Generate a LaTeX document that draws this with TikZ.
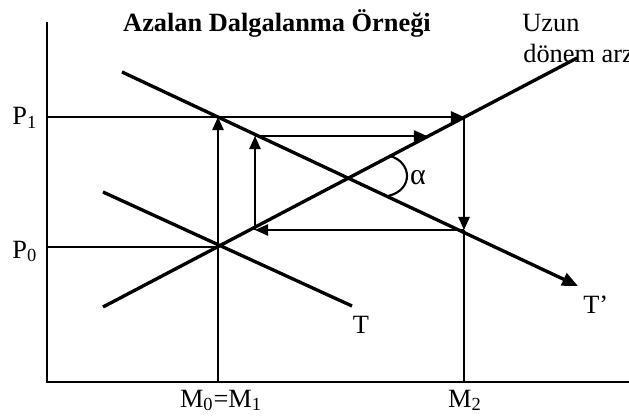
\documentclass[tikz,border=0pt]{standalone}
\usepackage{fontspec}
\setmainfont{Liberation Serif}
\usetikzlibrary{arrows.meta}

\begin{document}
\begin{tikzpicture}[
  x=0.2mm, y=0.2mm,
  axis/.style={line width=1.3pt},
  curve/.style={line width=1.9pt},
  guide/.style={line width=0.9pt},
  arr/.style={-{Triangle[length=7.5pt, width=6.5pt]}, line width=0.9pt},
  lbl/.style={font=\fontsize{15}{18}\selectfont, inner sep=0pt},
]
  \useasboundingbox (0,0) rectangle (629,416);

  % axes
  \coordinate (o) at (47,34);
  \coordinate (ytop) at (47,394);
  \coordinate (xend) at (629,34);
  \draw[axis] (ytop) -- (o) -- (xend);

  % cobweb corners
  \coordinate (e0) at (218,169);
  \coordinate (c1) at (218,299);
  \coordinate (c2) at (464,299);
  \coordinate (c3) at (464,186);
  \coordinate (c4) at (255,186);
  \coordinate (c5) at (255,280);
  \coordinate (c6) at (427,280);

  % guide lines
  \draw[guide] (o |- c1) -- (c1);
  \draw[guide] (o |- e0) -- (e0);
  \draw[guide] (o -| e0) -- (e0);
  \draw[guide] (o -| c3) -- (c3);

  % supply and demand
  \coordinate (sa) at (103,109);
  \coordinate (sb) at (577,358);
  \coordinate (ta) at (103,224);
  \coordinate (tb) at (352,110);
  \coordinate (tpa) at (122,344);
  \coordinate (tpb) at (578,130);
  \draw[curve] (sa) -- (sb);
  \draw[curve] (ta) -- (tb);
  \draw[curve, -{Triangle[length=9pt, width=7.5pt]}] (tpa) -- (tpb);

  % cobweb
  \draw[arr] (e0) -- (c1);
  \draw[arr] (c1) -- (c2);
  \draw[arr] (c2) -- (c3);
  \draw[arr] (c3) -- (c4);
  \draw[arr] (c4) -- (c5);
  \draw[arr] (c5) -- (c6);

  % angle mark
  \draw[line width=1.2pt] (390,260) .. controls (412,254) and (414,226) .. (388,220);

  % labels
  \node[lbl, font=\fontsize{15}{18}\selectfont\bfseries, anchor=base] (title) at (277,384) {Azalan Dalgalanma Örneği};
  \node[lbl, anchor=base west] (uzun) at (522,384) {Uzun};
  \node[lbl, anchor=base west] (arz) at (523,353) {dönem arz};
  \node[lbl, anchor=base west] (p1) at (12,291) {P\textsubscript{1}};
  \node[lbl, anchor=base west] (p0) at (12,158) {P\textsubscript{0}};
  \node[lbl, anchor=base] (m01) at (221,9) {M\textsubscript{0}=M\textsubscript{1}};
  \node[lbl, anchor=base] (m2) at (465,9) {M\textsubscript{2}};
  \node[lbl, anchor=base] (tlab) at (361,83) {T};
  \node[lbl, anchor=base west] (tplab) at (583,103) {T’};
  \node[lbl, font=\fontsize{17}{20}\selectfont] (alab) at (418,238) {α};
\end{tikzpicture}
\end{document}
